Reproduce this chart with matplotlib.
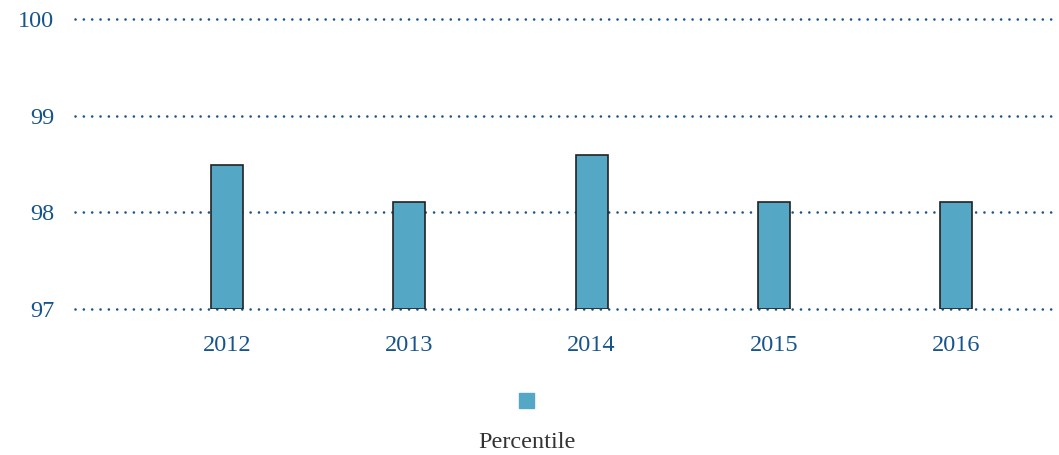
import matplotlib.pyplot as plt
from matplotlib.patches import Rectangle

years = ["2012", "2013", "2014", "2015", "2016"]
percentile = [98.49, 98.11, 98.59, 98.11, 98.11]
yticks = [97, 98, 99, 100]

blue = "#17548c"
bar_col = "#55a7c6"

plt.rcParams["font.family"] = ["Liberation Serif", "DejaVu Serif"]

fig = plt.figure(figsize=(10.59, 4.55), dpi=100)
ax = fig.add_axes([0.0708, 0.321, 0.925, 0.637])

x = list(range(len(years)))
ax.bar(x, [v - 97 for v in percentile], bottom=97, width=0.176,
       color=bar_col, edgecolor="#222222", linewidth=1.2, zorder=3)

for y in yticks:
    ax.axhline(y, color=blue, linewidth=1.9, linestyle=(0, (0.01, 3.15)),
               dash_capstyle="round", zorder=2, clip_on=False)

ax.set_ylim(97, 100)
ax.set_xlim(-0.834, 4.54)
ax.set_yticks(yticks)
ax.set_yticklabels([str(y) for y in yticks])
ax.set_xticks(x)
ax.set_xticklabels(years)
ax.tick_params(axis="both", length=0, colors=blue, labelsize=17.5)
ax.tick_params(axis="y", pad=15)
ax.tick_params(axis="x", pad=19)
for s in ax.spines.values():
    s.set_visible(False)

# legend: square above label
fig.patches.append(Rectangle((0.4905, 0.103), 0.0142, 0.033,
                             transform=fig.transFigure, color=bar_col))
fig.text(0.4975, 0.033, "Percentile", ha="center", va="center_baseline",
         fontsize=17.5, color="#333333")

fig.savefig("out.png", dpi=100)
